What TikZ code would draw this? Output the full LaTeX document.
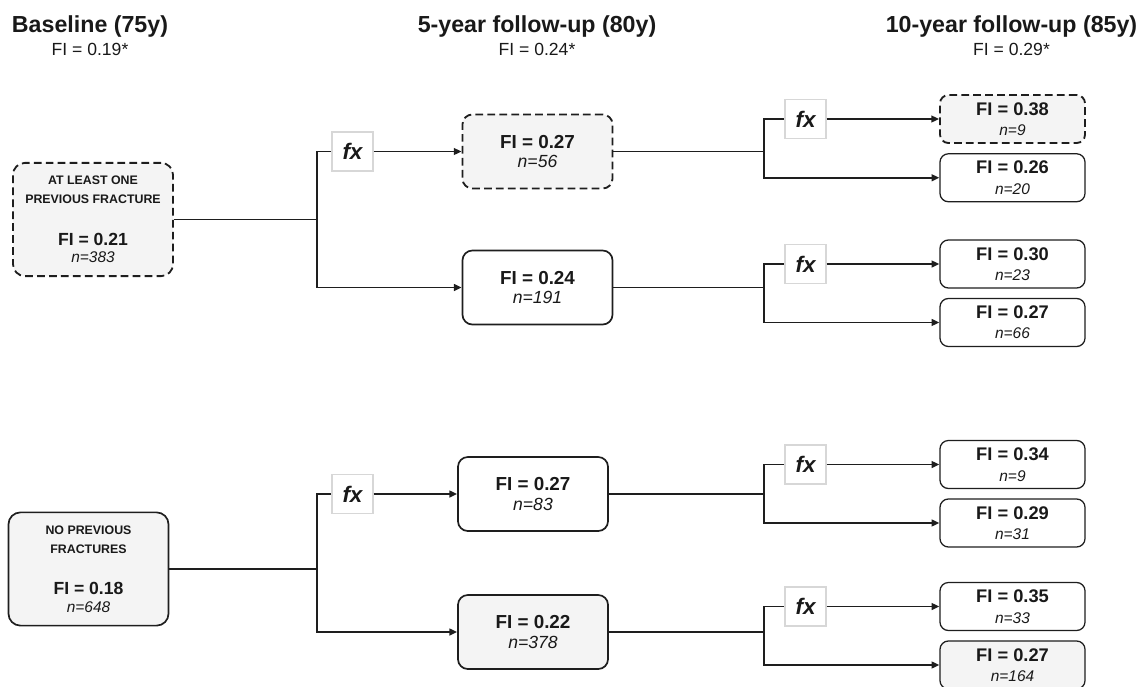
\documentclass[tikz,border=0pt]{standalone}
\usepackage{fontspec}
\setmainfont{Liberation Sans}
\usetikzlibrary{arrows.meta, positioning}
\definecolor{boxgray}{RGB}{244,244,244}
\definecolor{fxline}{RGB}{215,215,215}
\definecolor{linec}{RGB}{30,30,30}
\definecolor{txt}{RGB}{25,25,25}
\tikzset{
    headtxt/.style={anchor=base, text=txt, font=\fontsize{16.5}{18}\selectfont\bfseries},
    subtxt/.style={anchor=base, text=txt, font=\fontsize{12.5}{14}\selectfont},
    basebox/.style={rectangle, rounded corners=8.5pt, minimum width=4cm, minimum height=2.83cm, draw=linec, line width=1.2pt, fill=boxgray, text=txt, align=center, font=\fontsize{8.8}{13.5}\selectfont\bfseries},
    midbox/.style={rectangle, rounded corners=7pt, minimum width=3.75cm, minimum height=1.85cm, draw=linec, line width=1.2pt, fill=white, text=txt, align=center, font=\fontsize{13.4}{14}\selectfont\bfseries},
    endbox/.style={rectangle, rounded corners=6pt, minimum width=3.625cm, minimum height=1.2cm, draw=linec, line width=0.9pt, fill=white, text=txt, align=center, font=\fontsize{13}{14.5}\selectfont\bfseries},
    fxbox/.style={rectangle, draw=fxline, fill=white, line width=0.8pt, minimum width=1.025cm, minimum height=0.975cm, text=txt, font=\fontsize{16}{16}\selectfont\bfseries\itshape},
    grey/.style={fill=boxgray},
    dashbox/.style={dash pattern=on 5.5pt off 3pt, line width=1.3pt},
    link/.style={line width=1.3pt, draw=linec},
    arrow/.style={-{Triangle[length=5.5pt, width=4.8pt]}, line width=1.3pt, draw=linec},
}
\newcommand{\fival}[3]{FI = #1\\{\fontsize{#3}{13}\selectfont\mdseries\itshape n=#2}}

\begin{document}
\begin{tikzpicture}[x=0.025cm, y=-0.025cm, node distance=2.3mm]
\useasboundingbox (0,0) rectangle (1142,686);

% Column headings
\node[headtxt] (h1) at (90,32) {Baseline (75y)};
\node[subtxt] (s1) at (90,55) {FI = 0.19*};
\node[headtxt] (h2) at (537,32) {5-year follow-up (80y)};
\node[subtxt] (s2) at (537,55) {FI = 0.24*};
\node[headtxt] (h3) at (1011.5,32) {10-year follow-up (85y)};
\node[subtxt] (s3) at (1011.5,55) {FI = 0.29*};

% Column 1: baseline groups
\node[basebox, dashbox] (base1) at (93,219.5) {AT LEAST ONE\\PREVIOUS FRACTURE\\[16pt]{\fontsize{12.5}{13.5}\selectfont FI = 0.21}\\[-1.3pt]{\fontsize{11}{13.5}\selectfont\mdseries\itshape n=383}};
\node[basebox] (base2) at (88.5,569) {NO PREVIOUS\\FRACTURES\\[16pt]{\fontsize{12.5}{13.5}\selectfont FI = 0.18}\\[-1.3pt]{\fontsize{11}{13.5}\selectfont\mdseries\itshape n=648}};

% Column 2: 5-year follow-up
\coordinate (kA) at (317,0);
\coordinate (fxA) at (352.5,0);
\node[midbox, grey, dashbox] (m1) at (537.5,151.5) {\fival{0.27}{56}{12.5}};
\node[midbox] (m2) at (537.5,287.5) {\fival{0.24}{191}{12.5}};
\node[midbox] (m3) at (533,494) {\fival{0.27}{83}{12.5}};
\node[midbox, grey] (m4) at (533,632) {\fival{0.22}{378}{12.5}};
\node[fxbox] (fx1) at (m1.west -| fxA) {fx};
\node[fxbox] (fx2) at (m3.west -| fxA) {fx};

% Column 3: 10-year follow-up
\coordinate (kB) at (764,0);
\coordinate (fxB) at (805.5,0);
\node[endbox, grey, dashbox] (e1) at (1012.5,119) {\fival{0.38}{9}{11}};
\node[endbox, below=of e1] (e2) {\fival{0.26}{20}{11}};
\node[endbox] (e3) at (1012.5,264) {\fival{0.30}{23}{11}};
\node[endbox, below=of e3] (e4) {\fival{0.27}{66}{11}};
\node[endbox] (e5) at (1012.5,464.5) {\fival{0.34}{9}{11}};
\node[endbox, below=of e5] (e6) {\fival{0.29}{31}{11}};
\node[endbox] (e7) at (1012.5,606.5) {\fival{0.35}{33}{11}};
\node[endbox, grey, below=of e7] (e8) {\fival{0.27}{164}{11}};
\node[fxbox] (fx3) at (e1.west -| fxB) {fx};
\node[fxbox] (fx4) at (e3.west -| fxB) {fx};
\node[fxbox] (fx5) at (e5.west -| fxB) {fx};
\node[fxbox] (fx6) at (e7.west -| fxB) {fx};

% Baseline -> 5-year
\draw[link] (base1.east) -- (base1.east -| kA) |- (fx1.west);
\draw[arrow] (base1.east -| kA) |- (m2.west);
\draw[arrow] (fx1.east) -- (m1.west);
\draw[link] (base2.east) -- (base2.east -| kA) |- (fx2.west);
\draw[arrow] (base2.east -| kA) |- (m4.west);
\draw[arrow] (fx2.east) -- (m3.west);

% 5-year -> 10-year
\draw[link] (m1.east) -- (m1.east -| kB) |- (fx3.west);
\draw[arrow] (m1.east -| kB) |- (e2.west);
\draw[arrow] (fx3.east) -- (e1.west);
\draw[link] (m2.east) -- (m2.east -| kB) |- (fx4.west);
\draw[arrow] (m2.east -| kB) |- (e4.west);
\draw[arrow] (fx4.east) -- (e3.west);
\draw[link] (m3.east) -- (m3.east -| kB) |- (fx5.west);
\draw[arrow] (m3.east -| kB) |- (e6.west);
\draw[arrow] (fx5.east) -- (e5.west);
\draw[link] (m4.east) -- (m4.east -| kB) |- (fx6.west);
\draw[arrow] (m4.east -| kB) |- (e8.west);
\draw[arrow] (fx6.east) -- (e7.west);

\end{tikzpicture}
\end{document}
